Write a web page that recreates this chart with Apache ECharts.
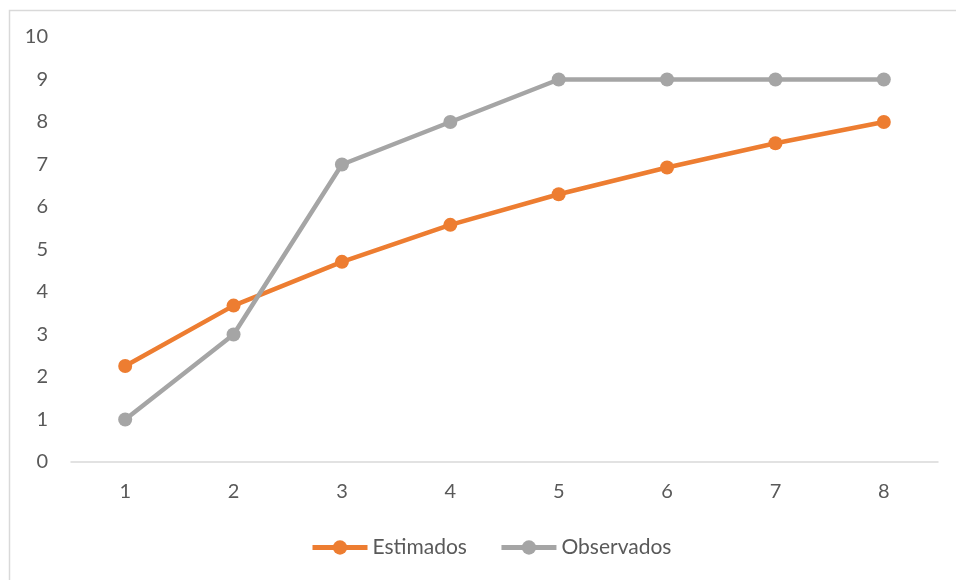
<!DOCTYPE html>
<html>
<head>
<meta charset="utf-8">
<script src="https://cdn.jsdelivr.net/npm/echarts@6/dist/echarts.min.js"></script>
<style>
html,body{margin:0;padding:0;background:#fff;}
#chart{width:956px;height:580px;}
</style>
</head>
<body>
<div id="chart"></div>
<script>
const categories = ['1','2','3','4','5','6','7','8'];
const estimados = [2.26, 3.68, 4.71, 5.58, 6.30, 6.93, 7.50, 8.00];
const observados = [1, 3, 7, 8, 9, 9, 9, 9];
const seriesNames = ['Estimados', 'Observados'];

const FONT = 'Lato';
const TXT = '#595959';
const chart = echarts.init(document.getElementById('chart'), null, {renderer: 'canvas'});
chart.setOption({
  animation: false,
  backgroundColor: '#fff',
  graphic: [{
    type: 'rect', left: 7, top: 8, shape: {width: 1000, height: 700},
    style: {fill: 'none', stroke: '#D9D9D9', lineWidth: 1.5}, silent: true
  }],
  grid: {left: 71, right: 18, top: 37, bottom: 118, containLabel: false},
  legend: {
    data: seriesNames,
    left: 310, top: 537, padding: 0,
    itemWidth: 55, itemHeight: 18, itemGap: 32,
    lineStyle: {width: 5},
    textStyle: {fontFamily: FONT, fontSize: 21, color: TXT, padding: [0,0,0,0]}
  },
  xAxis: {
    type: 'category', data: categories, boundaryGap: true,
    axisLine: {lineStyle: {color: '#D9D9D9', width: 1.5}},
    axisTick: {show: false},
    axisLabel: {fontFamily: FONT, fontSize: 20, color: TXT, margin: 20}
  },
  yAxis: {
    type: 'value', min: 0, max: 10, interval: 1,
    axisLine: {show: false}, axisTick: {show: false},
    splitLine: {show: false},
    axisLabel: {fontFamily: FONT, fontSize: 20, color: TXT, margin: 23}
  },
  series: [
    {name: seriesNames[0], type: 'line', data: estimados, symbol: 'circle', symbolSize: 14,
     itemStyle: {color: '#ED7D31'}, lineStyle: {color: '#ED7D31', width: 4.5}},
    {name: seriesNames[1], type: 'line', data: observados, symbol: 'circle', symbolSize: 14,
     itemStyle: {color: '#A5A5A5'}, lineStyle: {color: '#A5A5A5', width: 4.5}}
  ]
});
</script>
</body>
</html>
